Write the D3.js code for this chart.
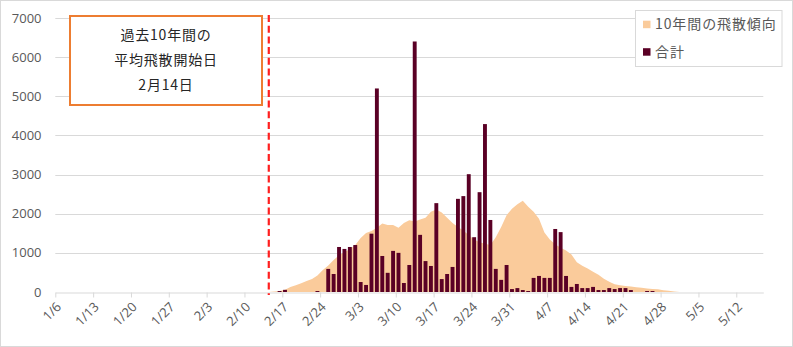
<!DOCTYPE html>
<html>
<head>
<meta charset="utf-8">
<script src="https://cdn.jsdelivr.net/npm/d3@7"></script>
<style>
  html, body { margin: 0; padding: 0; background: #fff; }
  svg { display: block; }
  .num { font-family: "Open Sans", "Liberation Sans", sans-serif; font-size: 13px; fill: #595959; }
  .jp { font-family: "Noto Sans CJK JP", sans-serif; }
</style>
</head>
<body>
<svg id="chart" width="793" height="347"></svg>
<script>
// Calendar span of the category axis (one slot per day)
const firstDay = new Date(Date.UTC(2019, 0, 6));
const endDay = new Date(Date.UTC(2019, 4, 17));

// Daily pollen total, starting 2/16
const totalStart = new Date(Date.UTC(2019, 1, 16));
const totals = [
  25, 55, 0, 0, 0, 0, 0, 25, 0, 590,
  460, 1150, 1100, 1150, 1200, 255, 180, 1490, 5200, 920,
  490, 1050, 1000, 230, 690, 6400, 1460, 790, 665, 2270,
  330, 460, 640, 2380, 2450, 3010, 1400, 2550, 4290, 1840,
  590, 310, 690, 75, 100, 50, 25, 360, 410, 360,
  360, 1610, 1530, 410, 130, 205, 100, 100, 130, 50,
  50, 100, 75, 100, 100, 50, 0, 0, 25, 25
];

// 10-year dispersal trend, starting 2/14
const trendStart = new Date(Date.UTC(2019, 1, 14));
const trend = [
  0, 15, 25, 60, 130, 170, 225, 280, 330, 420,
  560, 680, 820, 940, 1020, 1090, 1200, 1380, 1510, 1560,
  1640, 1750, 1712, 1710, 1640, 1760, 1830, 1800, 1850, 1900,
  2050, 2110, 2030, 1900, 1760, 1660, 1570, 1450, 1340, 1270,
  1230, 1200, 1400, 1660, 1960, 2130, 2240, 2330, 2180, 2050,
  1870, 1520, 1340, 1220, 1130, 1060, 960, 760, 670, 600,
  520, 440, 340, 260, 195, 170, 155, 140, 120, 110,
  90, 78, 70, 45, 30, 10, 0
];

const yTicks = [0, 1000, 2000, 3000, 4000, 5000, 6000, 7000];
const tickDates = d3.utcDay.range(firstDay, endDay).filter((d, i) => i % 7 === 0);
const startDate = new Date(Date.UTC(2019, 1, 14));

const seriesNames = ["10年間の飛散傾向", "合計"];
const noteLines = ["過去10年間の", "平均飛散開始日", "2月14日"];

const colors = { trend: "#FACB9B", total: "#5A0025", grid: "#D9D9D9", note: "#ED7D31", start: "#FF1F1F" };

const svg = d3.select("#chart");
const plotLeft = 55.3, plotRight = 763.3, plotTop = 18, plotBottom = 292;

const x = d3.scaleUtc().domain([firstDay, endDay]).range([plotLeft, plotRight]);
const step = x(d3.utcDay.offset(firstDay, 1)) - x(firstDay);
const mid = d => x(d) + step / 2;
const y = d3.scaleLinear().domain([0, 7000]).range([plotBottom, plotTop]);

// outer frame
svg.append("rect").attr("x", 0.5).attr("y", 0.5).attr("width", 792).attr("height", 346)
  .attr("fill", "#fff").attr("stroke", colors.grid);

// horizontal gridlines and value labels
svg.append("g").selectAll("line").data(yTicks.slice(1)).join("line")
  .attr("x1", plotLeft).attr("x2", plotRight)
  .attr("y1", d => Math.round(y(d)) + 0.5).attr("y2", d => Math.round(y(d)) + 0.5)
  .attr("stroke", colors.grid).attr("stroke-width", 1);

svg.append("g").selectAll("text").data(yTicks).join("text")
  .attr("class", "num")
  .attr("x", 41.5).attr("y", d => y(d)).attr("dy", "0.35em")
  .attr("text-anchor", "end")
  .text(d => d);

// trend area
const trendData = trend.map((v, i) => ({ date: d3.utcDay.offset(trendStart, i), value: v }));
svg.append("path")
  .datum(trendData)
  .attr("fill", colors.trend)
  .attr("d", d3.area().x(d => mid(d.date)).y0(y(0)).y1(d => y(d.value)));

// daily totals
const totalData = totals.map((v, i) => ({ date: d3.utcDay.offset(totalStart, i), value: v }));
const barW = step * 0.72;
svg.append("g").selectAll("rect").data(totalData.filter(d => d.value > 0)).join("rect")
  .attr("x", d => mid(d.date) - barW / 2)
  .attr("y", d => y(d.value))
  .attr("width", barW)
  .attr("height", d => y(0) - y(d.value))
  .attr("fill", colors.total);

// x axis
const xAxis = d3.axisBottom(x)
  .tickValues(tickDates)
  .tickSize(5)
  .tickSizeOuter(0)
  .tickFormat(d => `${d.getUTCMonth() + 1}/${d.getUTCDate()}`);
const gx = svg.append("g").attr("transform", `translate(0,${plotBottom + 0.5})`).call(xAxis);
gx.select(".domain").attr("stroke", colors.grid);
gx.selectAll(".tick line").attr("stroke", colors.grid);
gx.selectAll(".tick text")
  .attr("class", "num")
  .attr("text-anchor", "end")
  .attr("x", 0).attr("y", 0).attr("dy", "0.35em")
  .attr("transform", "translate(3,12) rotate(-45)");

// average start date marker
svg.append("line")
  .attr("x1", mid(startDate)).attr("x2", mid(startDate))
  .attr("y1", 15).attr("y2", 295)
  .attr("stroke", colors.start).attr("stroke-width", 2.2)
  .attr("stroke-dasharray", "7,3.7");

// note box
svg.append("rect").attr("x", 70).attr("y", 16).attr("width", 192).attr("height", 89)
  .attr("fill", "#fff").attr("stroke", colors.note).attr("stroke-width", 2);
svg.append("g").selectAll("text").data(noteLines).join("text")
  .attr("class", "jp")
  .attr("x", 166).attr("y", (d, i) => 35 + i * 25).attr("dy", "0.35em")
  .attr("text-anchor", "middle")
  .attr("font-size", 14).attr("letter-spacing", "0.8px")
  .attr("fill", "#262626")
  .text(d => d);

// legend
const lg = svg.append("g");
lg.append("rect").attr("x", 635.5).attr("y", 10.5).attr("width", 146.5).attr("height", 56)
  .attr("fill", "#fff").attr("stroke", colors.grid);
const items = lg.selectAll("g").data(seriesNames).join("g")
  .attr("transform", (d, i) => `translate(643,${24.5 + i * 27.5})`);
items.append("rect").attr("x", 0).attr("y", -3.8).attr("width", 7.5).attr("height", 7.5)
  .attr("fill", (d, i) => i === 0 ? colors.trend : colors.total);
items.append("text")
  .attr("class", "jp")
  .attr("x", 12).attr("y", 0).attr("dy", "0.35em")
  .attr("font-size", 14).attr("letter-spacing", "0.9px")
  .attr("fill", "#595959")
  .text(d => d);
</script>
</body>
</html>
